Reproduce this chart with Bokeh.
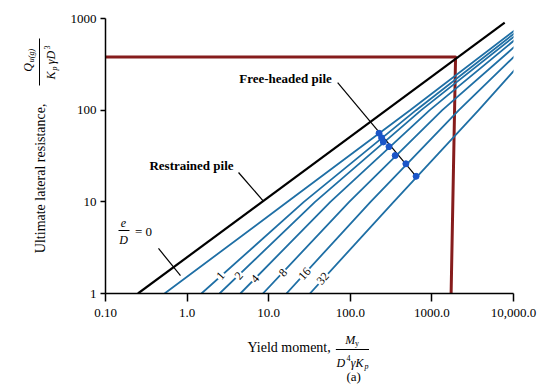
import math
from bokeh.plotting import figure
from bokeh.layouts import row, column
from bokeh.models import Label, Arrow, FixedTicker, CustomJSTickFormatter, Range1d
from bokeh.embed import file_html
from bokeh.resources import INLINE

# ---------------- data ----------------
x_ticks = [0.1, 1, 10, 100, 1000, 10000]
x_tick_labels = ["0.10", "1.0", "10.0", "100.0", "1000.0", "10,000.0"]
y_ticks = [1, 10, 100, 1000]
y_tick_labels = ["1", "10", "100", "1000"]

# restrained pile (black line)
restrained_x = [0.25, 7800]
restrained_y = [1, 900]

# free-headed pile curves, e/D values
e_over_d = ["0", "1", "2", "4", "8", "16", "32"]
free_x = [
    [0.53, 17, 540, 10500],
    [1.5, 27, 640, 10500],
    [2.5, 37, 740, 10500],
    [4.5, 57, 940, 10500],
    [8.5, 97, 1340, 10500],
    [16.5, 177, 2140, 10500],
    [32, 340, 3740, 10500],
]
free_y = [
    [1, 10, 100, 750],
    [1, 10, 100, 700],
    [1, 10, 100, 650],
    [1, 10, 100, 590],
    [1, 10, 100, 500],
    [1, 10, 100, 395],
    [1, 10, 100, 280],
]
# dots marking the free-headed pile points
dot_x = [225, 242, 254, 298, 355, 480, 640]
dot_y = [56, 50, 45, 40, 32, 26, 19]

# dark red limit lines
limit_x = [0.1, 1950, 1720]
limit_y = [380, 380, 1]

# curve label positions (on the curves)
curve_label_x = [2.56, 4.3, 6.8, 15.0, 27.5, 46]
curve_label_y = [1.57, 1.57, 1.45, 1.69, 1.65, 1.46]

# leader lines
free_leader_x = [70, 640]
free_leader_y = [200, 19]
restr_leader_x = [4.27, 8.6]
restr_leader_y = [20.9, 10.2]
e0_leader_x = [0.446, 0.83]
e0_leader_y = [3.1, 1.57]

# ---------------- styles ----------------
FONT = "Liberation Serif"
BLUE = "#1f6fa5"
DARKRED = "#861c1c"

# ---------------- main figure ----------------
p = figure(width=480, height=330, x_axis_type="log", y_axis_type="log",
           x_range=Range1d(0.1, 10000), y_range=Range1d(1, 1000),
           output_backend="svg", toolbar_location=None,
           min_border_left=45, min_border_right=27,
           min_border_top=18, min_border_bottom=37)
p.outline_line_color = None
p.xgrid.visible = False
p.ygrid.visible = False
p.background_fill_color = "white"
p.border_fill_color = "white"

fmt_code = """
let best = 0, bd = Infinity;
for (let i = 0; i < tvals.length; i++) {
  const d = Math.abs(Math.log10(tvals[i]) - Math.log10(tick));
  if (d < bd) { bd = d; best = i; }
}
return tlabels[best];
"""
p.xaxis.ticker = FixedTicker(ticks=x_ticks, minor_ticks=[])
p.xaxis.formatter = CustomJSTickFormatter(args=dict(tvals=x_ticks, tlabels=x_tick_labels), code=fmt_code)
p.yaxis.ticker = FixedTicker(ticks=y_ticks, minor_ticks=[])
p.yaxis.formatter = CustomJSTickFormatter(args=dict(tvals=y_ticks, tlabels=y_tick_labels), code=fmt_code)

for ax in (p.xaxis[0], p.yaxis[0]):
    ax.axis_line_color = "black"
    ax.axis_line_width = 1.5
    ax.major_tick_line_color = "black"
    ax.major_tick_line_width = 1.5
    ax.major_tick_in = 0
    ax.minor_tick_out = 0
    ax.minor_tick_in = 0
    ax.major_label_text_font = FONT
    ax.major_label_text_font_size = "13px"
    ax.major_label_text_color = "black"
p.xaxis.major_tick_out = 8
p.xaxis.major_label_standoff = 7
p.yaxis.major_tick_out = 5
p.yaxis.major_label_standoff = 4

# limit lines
p.line(limit_x, limit_y, line_color=DARKRED, line_width=3, line_join="round")

# free-headed curves
for xs, ys in zip(free_x, free_y):
    p.line(xs, ys, line_color=BLUE, line_width=1.8)

# restrained pile
p.line(restrained_x, restrained_y, line_color="black", line_width=2.2)

# leaders
p.line(free_leader_x, free_leader_y, line_color="black", line_width=1.2)
p.line(restr_leader_x, restr_leader_y, line_color="black", line_width=1.2)
p.line(e0_leader_x, e0_leader_y, line_color="black", line_width=1.2)

# dots
p.scatter(dot_x, dot_y, size=6, fill_color="#1a55c8", line_color="#1a55c8")

# labels inside the main frame (frame-relative screen units)
def sx(cx):
    return cx - 105

def sy(cy):
    return 293 - cy

def lab(text, cx, cy, size=13, style="normal", angle=0.0, align="center", baseline="middle"):
    p.add_layout(Label(x=sx(cx), y=sy(cy), x_units="screen", y_units="screen", text=text,
                       text_font=FONT, text_font_size=f"{size}px", text_font_style=style,
                       text_color="black", angle=angle, text_align=align, text_baseline=baseline))

for t, x, y in zip(e_over_d[1:], curve_label_x, curve_label_y):
    p.add_layout(Label(x=x, y=y, text=t, text_font=FONT, text_font_size="12px",
                       text_color="black", angle=0.85, text_align="center", text_baseline="middle",
                       background_fill_color="white", padding=1))

lab("Restrained pile", 191, 165, size=13, style="bold")
lab("Free-headed pile", 285, 78, size=13, style="bold")

lab("e", 123, 222, size=12, style="italic")
p.add_layout(Arrow(end=None, x_start=sx(118), y_start=sy(230), x_end=sx(129), y_end=sy(230),
                   start_units="screen", end_units="screen", line_color="black", line_width=1))
lab("D", 123, 239, size=12, style="italic")
lab("= 0", 143, 231, size=13)


# ---------------- title panels (coordinates = page pixels) ----------------
def panel(x0, x1, y0, y1):
    f = figure(width=x1 - x0, height=y1 - y0, x_range=Range1d(x0, x1), y_range=Range1d(y1, y0),
               output_backend="svg", toolbar_location=None, min_border=0,
               x_axis_location=None, y_axis_location=None)
    f.outline_line_color = None
    f.xgrid.visible = False
    f.ygrid.visible = False
    f.background_fill_color = "white"
    f.border_fill_color = "white"
    return f

def plab(f, text, cx, cy, size=13, style="normal", angle=0.0, align="center", baseline="middle"):
    f.add_layout(Label(x=cx, y=cy, text=text, text_font=FONT, text_font_size=f"{size}px",
                       text_font_style=style, text_color="black", angle=angle,
                       text_align=align, text_baseline=baseline))

# x-axis title panel
xt = panel(60, 540, 330, 385)
plab(xt, "Yield moment,", 325, 347, size=14, align="right")
plab(xt, "M", 348, 339, size=12, style="italic")
plab(xt, "y", 356, 343, size=8)
xt.line([331, 370], [349, 349], line_color="black", line_width=1)
plab(xt, "D", 337, 362, size=12, style="italic")
plab(xt, "4", 346, 357, size=8)
plab(xt, "\u03b3K", 356, 362, size=12, style="italic")
plab(xt, "p", 367, 366, size=8, style="italic")
plab(xt, "(a)", 352, 376)

# y-axis title panel (rotated text)
yt = panel(0, 60, 0, 385)
A = math.pi / 2
plab(yt, "Ultimate lateral resistance,", 40, 103, size=14, angle=A, align="right")
plab(yt, "Q", 27, 67, size=12, style="italic", angle=A)
plab(yt, "u(g)", 31, 55, size=8, style="italic", angle=A)
yt.line([39, 39], [38, 85], line_color="black", line_width=1)
plab(yt, "K", 50, 75, size=12, style="italic", angle=A)
plab(yt, "p", 54, 68, size=8, style="italic", angle=A)
plab(yt, "\u03b3D", 50, 57, size=12, style="italic", angle=A)
plab(yt, "3", 46, 47, size=8, angle=A)

layout = row(yt, column(p, xt, spacing=0), spacing=0)

open("out.html", "w").write(file_html(layout, INLINE))
